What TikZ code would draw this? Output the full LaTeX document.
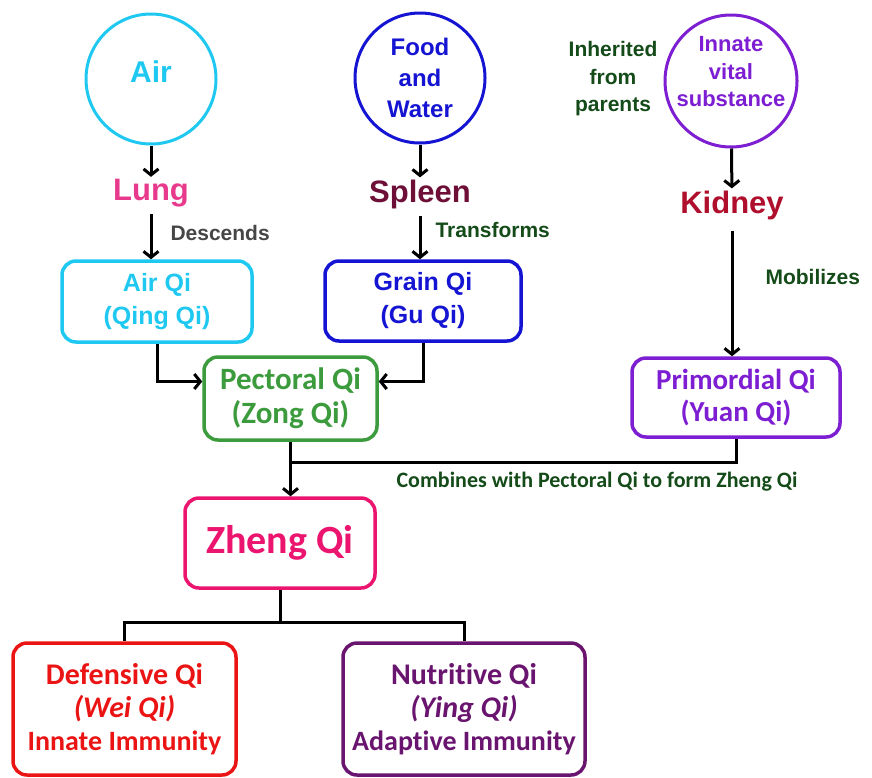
\documentclass[tikz,border=0pt]{standalone}
\usepackage{fontspec}
\setmainfont{Liberation Sans}
\newfontfamily\calfont{Carlito}[Ligatures=NoCommon]
\usetikzlibrary{arrows.meta}

\definecolor{aircol}{RGB}{30,200,240}
\definecolor{lungcol}{RGB}{232,58,140}
\definecolor{foodcol}{RGB}{20,20,210}
\definecolor{spleencol}{RGB}{110,15,55}
\definecolor{innatecol}{RGB}{125,30,210}
\definecolor{kidneycol}{RGB}{175,15,45}
\definecolor{pectcol}{RGB}{60,155,60}
\definecolor{zhengcol}{RGB}{235,20,110}
\definecolor{defcol}{RGB}{235,20,20}
\definecolor{nutcol}{RGB}{105,20,110}
\definecolor{notecol}{RGB}{20,75,25}
\definecolor{desccol}{RGB}{70,70,70}

\tikzset{
  src/.style={circle, draw, line width=3pt, minimum size=130pt, inner sep=0pt, align=center,
    font=\bfseries\fontsize{24}{31}\selectfont},
  organ/.style={inner sep=2pt, font=\bfseries\fontsize{31}{36}\selectfont},
  qibox/.style={draw, rounded corners=14pt, line width=3.5pt, align=center, inner sep=0pt},
  note/.style={align=center, font=\bfseries\fontsize{21}{27.5}\selectfont},
  arr/.style={line width=3pt, -{Straight Barb[length=6pt,width=15pt]}},
  link/.style={line width=3pt},
}

\begin{document}
\begin{tikzpicture}[x=1pt,y=-1pt]
    \useasboundingbox (0,0) rectangle (872,777);

    % where it comes from
    \node[src, draw=aircol, label={[text=aircol, yshift=7pt,
        font=\bfseries\fontsize{30}{36}\selectfont]center:Air}] (air) at (151,79) {};
    \node[src, draw=foodcol, text=foodcol] (food) at (420,78) {Food\\and\\Water};
    \node[src, draw=innatecol, minimum size=132pt, label={[text=innatecol, yshift=9pt, align=center,
        font=\bfseries\fontsize{22}{27.5}\selectfont]center:Innate\\vital\\substance}] (innate) at (731,81) {};
    \node[note, text=notecol] (inherited) at (613,79) {Inherited\\from\\parents};

    \node[organ, text=lungcol] (lung) at (151,193) {Lung};
    \node[organ, text=spleencol] (spleen) at (420,194) {Spleen};
    \node[organ, text=kidneycol] (kidney) at (732,205) {Kidney};

    \node[qibox, draw=aircol, text=aircol, minimum width=190pt, minimum height=81pt,
        font=\bfseries\fontsize{25}{33}\selectfont] (airqi) at (157,301.5) {Air Qi\\(Qing Qi)};
    \node[qibox, draw=foodcol, text=foodcol, minimum width=196pt, minimum height=80pt,
        font=\bfseries\fontsize{25}{33}\selectfont] (grainqi) at (423,301) {Grain Qi\\(Gu Qi)};
    \node[qibox, draw=pectcol, text=pectcol, minimum width=173pt, minimum height=83pt,
        font=\calfont\bfseries\fontsize{31}{34}\selectfont] (pectoral) at (290.5,398.5) {Pectoral Qi\\(Zong Qi)};
    \node[qibox, draw=innatecol, text=innatecol, minimum width=208pt, minimum height=79pt,
        font=\calfont\bfseries\fontsize{29}{32}\selectfont] (primordial) at (736,397.5) {Primordial Qi\\(Yuan Qi)};

    \node[qibox, draw=zhengcol, text=zhengcol, minimum width=190pt, minimum height=90pt,
        font=\calfont\bfseries\fontsize{40}{46}\selectfont] (zheng) at (280,543) {Zheng Qi};

    \node[qibox, draw=defcol, text=defcol, minimum width=223pt, minimum height=132pt,
        font=\calfont\bfseries\fontsize{30}{33}\selectfont] (defensive) at (124.5,709)
        {Defensive Qi\\\textit{(Wei Qi)}\\{\fontsize{28}{33}\selectfont Innate Immunity}};
    \node[qibox, draw=nutcol, text=nutcol, minimum width=242pt, minimum height=132pt,
        font=\calfont\bfseries\fontsize{30}{33}\selectfont] (nutritive) at (464,709)
        {Nutritive Qi\\\textit{(Ying Qi)}\\{\fontsize{28}{33}\selectfont Adaptive Immunity}};

    % arrows
    \draw[arr] (air) -- (lung);
    \draw[arr, shorten <=5pt] (lung) -- (lung |- airqi.north);
    \draw[arr] (food) -- (spleen);
    \draw[arr, shorten <=5pt] (spleen) -- (spleen |- grainqi.north);
    \draw[arr] (innate) -- (kidney);
    \draw[arr, shorten <=9pt] (kidney) -- (kidney |- primordial.north);

    \node[note, text=desccol, anchor=west] (descends) at (167,233) {Descends};
    \node[note, text=notecol, anchor=west] (transforms) at (432,230) {Transforms};
    \node[note, text=notecol, anchor=west] (mobilizes) at (762,277) {Mobilizes};

    \draw[arr] (airqi.south) |- ([yshift=17pt]pectoral.west);
    \draw[arr] (grainqi.south) |- ([yshift=17pt]pectoral.east);

    \coordinate (join) at (pectoral.south |- 0,462);
    \draw[link] (primordial.south) |- (join);
    \draw[arr] (pectoral.south) -- (pectoral.south |- zheng.north);
    \node[text=notecol, font=\calfont\bfseries\fontsize{22}{26}\selectfont] (combines) at (597,482)
        {Combines with Pectoral Qi to form Zheng Qi};

    \coordinate (split) at (zheng.south |- 0,622);
    \draw[link] (zheng.south) -- (split);
    \draw[link] (defensive.north) -- (defensive.north |- split) -- (nutritive.north |- split) -- (nutritive.north);
\end{tikzpicture}
\end{document}
